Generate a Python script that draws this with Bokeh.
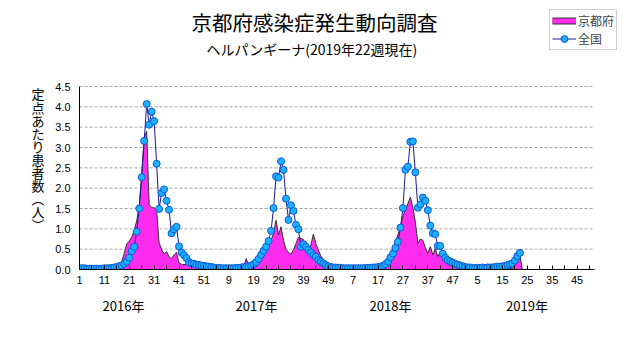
import numpy as np
from bokeh.plotting import figure
from bokeh.models import (Range1d, FixedTicker, PrintfTickFormatter, Label,
                          Legend, LegendItem, LinearAxis)
from bokeh.embed import file_html
from bokeh.resources import INLINE

# ---------------- data ----------------
title_text = "京都府感染症発生動向調査"
subtitle_text = "ヘルパンギーナ(2019年22週現在)"
ylabel_chars = ["定", "点", "あ", "た", "り", "患", "者", "数", "︵", "人", "︶"]
year_labels = ["2016年", "2017年", "2018年", "2019年"]
x_tick_labels = ["1", "11", "21", "31", "41", "51", "9", "19", "29", "39", "49",
                 "7", "17", "27", "37", "47", "5", "15", "25", "35", "45"]
n_axis_weeks = 208

national_2016 = [0.03, 0.03, 0.03, 0.02, 0.02, 0.02, 0.02, 0.02, 0.02, 0.02,
                 0.03, 0.03, 0.03, 0.04, 0.05, 0.06, 0.08, 0.10, 0.14, 0.19,
                 0.29, 0.45, 0.56, 0.93, 1.50, 2.27, 3.16, 4.07, 3.56, 3.88,
                 3.65, 2.60, 1.49, 1.88, 1.97, 1.69, 1.47, 0.89, 0.99, 1.05,
                 0.57, 0.42, 0.35, 0.28, 0.18, 0.15, 0.14, 0.12, 0.11, 0.10,
                 0.09, 0.08]
kyoto_2016 = [0.00, 0.00, 0.00, 0.00, 0.00, 0.00, 0.00, 0.00, 0.00, 0.00,
              0.00, 0.01, 0.01, 0.01, 0.03, 0.05, 0.10, 0.20, 0.40, 0.63,
              0.70, 0.80, 0.96, 1.20, 1.56, 2.35, 3.25, 3.40, 1.60, 1.52,
              1.52, 1.46, 0.65, 0.50, 0.38, 0.44, 0.31, 0.27, 0.36, 0.42,
              0.16, 0.13, 0.12, 0.13, 0.10, 0.10, 0.08, 0.07, 0.06, 0.05,
              0.04, 0.03]
national_2017 = [0.07, 0.06, 0.05, 0.04, 0.04, 0.03, 0.03, 0.03, 0.03, 0.03,
                 0.03, 0.04, 0.04, 0.05, 0.06, 0.07, 0.08, 0.10, 0.13, 0.18,
                 0.26, 0.36, 0.46, 0.56, 0.70, 0.95, 1.51, 2.29, 2.26, 2.66,
                 2.45, 1.74, 1.22, 1.58, 1.44, 1.10, 0.99, 0.56, 0.62, 0.56,
                 0.48, 0.42, 0.35, 0.31, 0.23, 0.19, 0.15, 0.11, 0.08, 0.06,
                 0.05, 0.05]
kyoto_2017 = [0.03, 0.02, 0.02, 0.02, 0.02, 0.02, 0.02, 0.02, 0.02, 0.02,
              0.02, 0.02, 0.03, 0.04, 0.06, 0.27, 0.10, 0.14, 0.19, 0.27,
              0.36, 0.45, 0.52, 0.58, 0.65, 0.72, 0.89, 1.21, 0.85, 1.05,
              0.72, 0.50, 0.42, 0.38, 0.48, 0.64, 0.79, 0.76, 0.74, 0.55,
              0.47, 0.60, 0.87, 0.64, 0.48, 0.33, 0.25, 0.20, 0.15, 0.09,
              0.05, 0.03]
national_2018 = [0.04, 0.04, 0.03, 0.03, 0.03, 0.03, 0.03, 0.03, 0.03, 0.03,
                 0.03, 0.04, 0.04, 0.04, 0.05, 0.05, 0.06, 0.07, 0.09, 0.13,
                 0.19, 0.30, 0.39, 0.53, 0.68, 1.03, 1.51, 2.45, 2.53, 3.14,
                 3.15, 2.39, 1.52, 1.60, 1.77, 1.69, 1.46, 1.08, 0.89, 0.87,
                 0.58, 0.58, 0.39, 0.29, 0.23, 0.20, 0.17, 0.14, 0.12, 0.10,
                 0.08, 0.06]
kyoto_2018 = [0.02, 0.02, 0.01, 0.01, 0.01, 0.01, 0.01, 0.01, 0.01, 0.01,
              0.01, 0.01, 0.01, 0.02, 0.02, 0.02, 0.03, 0.05, 0.10, 0.20,
              0.30, 0.40, 0.52, 0.68, 0.85, 1.05, 1.32, 1.47, 1.62, 1.78,
              1.52, 1.17, 0.64, 0.75, 0.72, 0.54, 0.40, 0.56, 0.36, 0.52,
              0.32, 0.42, 0.27, 0.20, 0.14, 0.10, 0.07, 0.05, 0.04, 0.03,
              0.02, 0.02]
national_2019 = [0.05, 0.05, 0.04, 0.04, 0.04, 0.04, 0.05, 0.04, 0.05, 0.05,
                 0.05, 0.06, 0.07, 0.07, 0.08, 0.09, 0.11, 0.13, 0.15, 0.22,
                 0.33, 0.41]
kyoto_2019 = [0.02, 0.02, 0.01, 0.01, 0.01, 0.01, 0.01, 0.01, 0.01, 0.01,
              0.01, 0.01, 0.01, 0.01, 0.01, 0.01, 0.02, 0.02, 0.03, 0.08,
              0.22, 0.37]

national = national_2016 + national_2017 + national_2018 + national_2019
kyoto = kyoto_2016 + kyoto_2017 + kyoto_2018 + kyoto_2019
weeks = list(range(1, len(national) + 1))

# ---------------- style / layout ----------------
MAGENTA = "#FF2CEE"
OUTLINE = "#333333"
NAVY = "#1A1A99"
MARK_FILL = "#1CB0FF"
MARK_LINE = "#0A5AD6"
GRID = "#A4A4A4"
FONT = "Noto Sans CJK JP"

W, H = 631, 347
L, B = 79, 78                 # left / bottom borders (axes live there)
AX_TOP, AX_RIGHT = 86, 594    # top of value axis and right end of week axis (px)
Y_MAX = 4.5

px_per_week = (AX_RIGHT - L) / (n_axis_weeks - 1)
px_per_unit = ((H - B) - AX_TOP) / Y_MAX
x_end = 1 + (W - L) / px_per_week
y_end = (H - B) / px_per_unit


def dx(px):
    return 1 + (px - L) / px_per_week


def dy(py):
    return ((H - B) - py) / px_per_unit


p = figure(width=W, height=H, x_range=Range1d(1, x_end), y_range=Range1d(0, y_end),
           output_backend="svg", toolbar_location=None, title=None,
           min_border_left=L, min_border_right=0, min_border_top=0, min_border_bottom=B)
p.outline_line_color = None
p.background_fill_color = "white"
p.border_fill_color = "white"
p.xgrid.visible = False
p.ygrid.visible = False

# week axis
major = list(range(1, n_axis_weeks + 1, 10))
minor = list(range(6, n_axis_weeks + 1, 10))
xa = p.xaxis[0]
xa.bounds = (1, n_axis_weeks)
xa.ticker = FixedTicker(ticks=major, minor_ticks=minor)
xa.major_label_overrides = {t: lab for t, lab in zip(major, x_tick_labels)}
xa.major_tick_in = 4
xa.major_tick_out = 0
xa.minor_tick_in = 4
xa.minor_tick_out = 0
xa.axis_line_color = "black"
xa.major_tick_line_color = "black"
xa.minor_tick_line_color = "black"
xa.major_label_standoff = 6
xa.major_label_text_font = "Liberation Sans"
xa.major_label_text_font_size = "11px"
xa.major_label_text_color = "black"

# year axis (second row below)
year_pos = [round(dx(c), 3) for c in [123, 256, 390, 526.5]]
ya2 = LinearAxis(ticker=FixedTicker(ticks=year_pos),
                 major_label_overrides={t: lab for t, lab in zip(year_pos, year_labels)},
                 axis_line_color=None, major_tick_line_color=None,
                 minor_tick_line_color=None, major_label_standoff=3,
                 major_label_text_font=FONT, major_label_text_font_size="13px",
                 major_label_text_color="black")
p.add_layout(ya2, "below")

# value axis
yticks = [i * 0.5 for i in range(10)]
ya = p.yaxis[0]
ya.bounds = (0, Y_MAX)
ya.ticker = FixedTicker(ticks=yticks)
ya.formatter = PrintfTickFormatter(format="%.1f")
ya.major_tick_in = 0
ya.major_tick_out = 0
ya.minor_tick_line_color = None
ya.axis_line_color = "black"
ya.major_label_standoff = 9
ya.major_label_text_font = "Liberation Sans"
ya.major_label_text_font_size = "11px"
ya.major_label_text_color = "black"

# vertical y title, one upright character per row (second left axis)
char_pos = [round(dy(93.5 + 13.1 * k), 4) for k in range(len(ylabel_chars))]
yl = LinearAxis(ticker=FixedTicker(ticks=char_pos),
                major_label_overrides={t: c for t, c in zip(char_pos, ylabel_chars)},
                axis_line_color=None, major_tick_line_color=None,
                minor_tick_line_color=None, major_label_standoff=2,
                major_label_text_font=FONT, major_label_text_font_size="13px",
                major_label_text_color="black")
p.add_layout(yl, "left")

# horizontal dashed grid, limited to the week axis extent
for yt in yticks[1:]:
    p.segment(x0=1, y0=yt, x1=n_axis_weeks, y1=yt, line_color=GRID,
              line_dash="3 2", line_width=1)

# Kyoto area (drops to baseline one week after the last value)
px = [weeks[0]] + weeks + [weeks[-1] + 1]
py = [0.0] + kyoto + [0.0]
p.patch(px, py, fill_color=MAGENTA, line_color=OUTLINE, line_width=1)

# national line
nat_line = p.line(weeks, national, line_color=NAVY, line_width=1)
nat_pts = p.scatter(weeks, national, size=7, marker="circle",
                    fill_color=MARK_FILL, line_color=MARK_LINE, line_width=1)

# legend proxies for the Kyoto swatch (kept outside the visible ranges)
off = [-50, -49]
lk1 = p.line(x=off, y=[-5, -5], line_color=OUTLINE, line_width=7, line_cap="butt")
lk2 = p.line(x=off, y=[-5, -5], line_color=MAGENTA, line_width=5, line_cap="butt")

legend = Legend(items=[LegendItem(label="京都府", renderers=[lk1, lk2]),
                       LegendItem(label="全国", renderers=[nat_line, nat_pts])],
                location=(549 - L, (H - B) - 50),
                orientation="vertical", padding=2, spacing=1, margin=0,
                glyph_width=24, glyph_height=17, label_height=17,
                label_standoff=2, label_text_font=FONT,
                label_text_font_size="12px",
                border_line_color="#A0A0A0", border_line_width=1,
                background_fill_color="white", background_fill_alpha=1.0)
p.add_layout(legend)

# titles
p.add_layout(Label(x=dx(314), y=dy(21), text=title_text, text_align="center",
                   text_baseline="middle", text_font=FONT, text_font_size="20.5px",
                   text_color="black"))
p.add_layout(Label(x=dx(311), y=dy(48), text=subtitle_text, text_align="center",
                   text_baseline="middle", text_font=FONT, text_font_size="14px",
                   text_color="black"))

open("out.html", "w").write(file_html(p, INLINE))
